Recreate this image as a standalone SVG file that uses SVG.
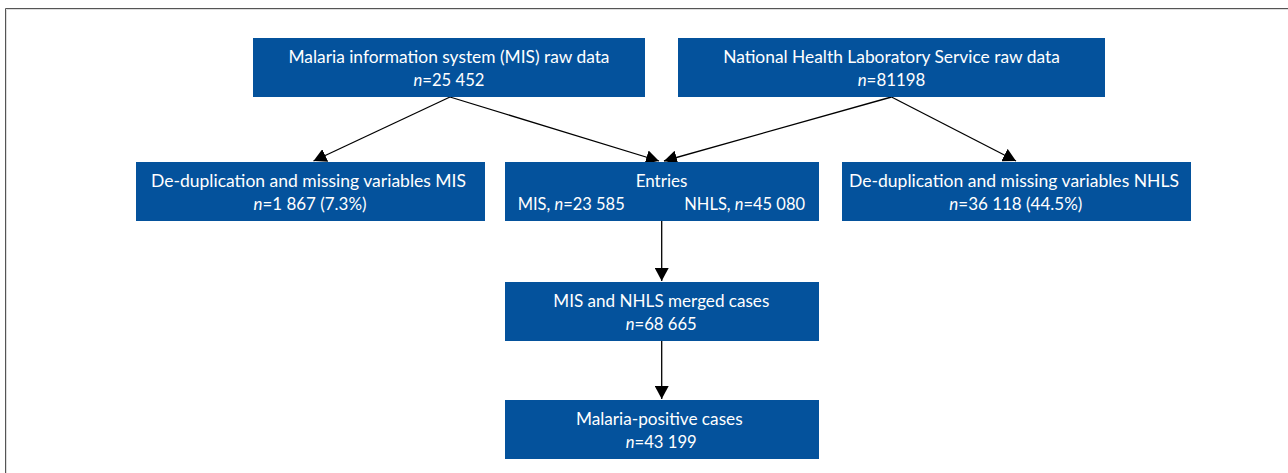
<svg xmlns="http://www.w3.org/2000/svg" width="1288" height="473" viewBox="0 0 1288 473">
<style>
.box{fill:#04529c}
.t{font-family:Lato,"Liberation Sans",sans-serif;font-size:17px;fill:#ffffff;text-anchor:middle}
.s{text-anchor:start}
.i{font-style:italic}
.c{stroke:#000;stroke-width:1.3;fill:none}
</style>
<defs>
<marker id="ah" viewBox="0 0 13 14" refX="13" refY="7" markerWidth="13" markerHeight="14" orient="auto" markerUnits="userSpaceOnUse">
<path d="M0,0 L13,7 L0,14 z" fill="#000"/>
</marker>
</defs>
<rect width="1288" height="473" fill="#fff"/>
<path d="M6.5,473 V9.5 H1288" stroke="#dddddd" stroke-width="1" fill="none"/>
<path d="M5.5,473 V8.5 H1288" stroke="#555555" stroke-width="1" fill="none"/>

<g id="connectors">
<line class="c" x1="450" y1="97" x2="313.5" y2="161" marker-end="url(#ah)"/>
<line class="c" x1="450" y1="97" x2="659" y2="161" marker-end="url(#ah)"/>
<line class="c" x1="891.5" y1="97" x2="664" y2="161" marker-end="url(#ah)"/>
<line class="c" x1="891.5" y1="97" x2="1016" y2="161" marker-end="url(#ah)"/>
<line class="c" x1="661.7" y1="221" x2="661.7" y2="281" marker-end="url(#ah)"/>
<line class="c" x1="661.7" y1="341" x2="661.7" y2="399" marker-end="url(#ah)"/>
</g>

<g id="mis-raw">
<rect class="box" x="253" y="38" width="392" height="59"/>
<text class="t" x="449" y="63" textLength="321" lengthAdjust="spacingAndGlyphs">Malaria information system (MIS) raw data</text>
<text class="t" x="449" y="86" textLength="71" lengthAdjust="spacingAndGlyphs"><tspan class="i">n</tspan>=25 452</text>
</g>

<g id="nhls-raw">
<rect class="box" x="678" y="38" width="427" height="59"/>
<text class="t" x="891.5" y="63" textLength="336.7" lengthAdjust="spacingAndGlyphs">National Health Laboratory Service raw data</text>
<text class="t" x="891.5" y="86" textLength="67.7" lengthAdjust="spacingAndGlyphs"><tspan class="i">n</tspan>=81198</text>
</g>

<g id="dedup-mis">
<rect class="box" x="136" y="162" width="349" height="59"/>
<text class="t" x="308.5" y="187" textLength="315" lengthAdjust="spacingAndGlyphs">De-duplication and missing variables MIS</text>
<text class="t" x="310" y="210" textLength="113" lengthAdjust="spacingAndGlyphs"><tspan class="i">n</tspan>=1 867 (7.3%)</text>
</g>

<g id="entries">
<rect class="box" x="505" y="162" width="314" height="59"/>
<text class="t" x="661.5" y="187" textLength="51.7" lengthAdjust="spacingAndGlyphs">Entries</text>
<text class="t s" x="517.7" y="210" textLength="107" lengthAdjust="spacingAndGlyphs">MIS, <tspan class="i">n</tspan>=23 585</text>
<text class="t s" x="684.3" y="210" textLength="120.7" lengthAdjust="spacingAndGlyphs">NHLS, <tspan class="i">n</tspan>=45 080</text>
</g>

<g id="dedup-nhls">
<rect class="box" x="842" y="162" width="349" height="59"/>
<text class="t" x="1014" y="187" textLength="330" lengthAdjust="spacingAndGlyphs">De-duplication and missing variables NHLS</text>
<text class="t" x="1015.8" y="210" textLength="133" lengthAdjust="spacingAndGlyphs"><tspan class="i">n</tspan>=36 118 (44.5%)</text>
</g>

<g id="merged">
<rect class="box" x="505" y="282" width="314" height="59"/>
<text class="t" x="661.3" y="307" textLength="216" lengthAdjust="spacingAndGlyphs">MIS and NHLS merged cases</text>
<text class="t" x="661.2" y="330" textLength="71" lengthAdjust="spacingAndGlyphs"><tspan class="i">n</tspan>=68 665</text>
</g>

<g id="positive">
<rect class="box" x="505" y="400" width="314" height="59"/>
<text class="t" x="659.3" y="425" textLength="166.7" lengthAdjust="spacingAndGlyphs">Malaria-positive cases</text>
<text class="t" x="661.2" y="448" textLength="71" lengthAdjust="spacingAndGlyphs"><tspan class="i">n</tspan>=43 199</text>
</g>
</svg>
